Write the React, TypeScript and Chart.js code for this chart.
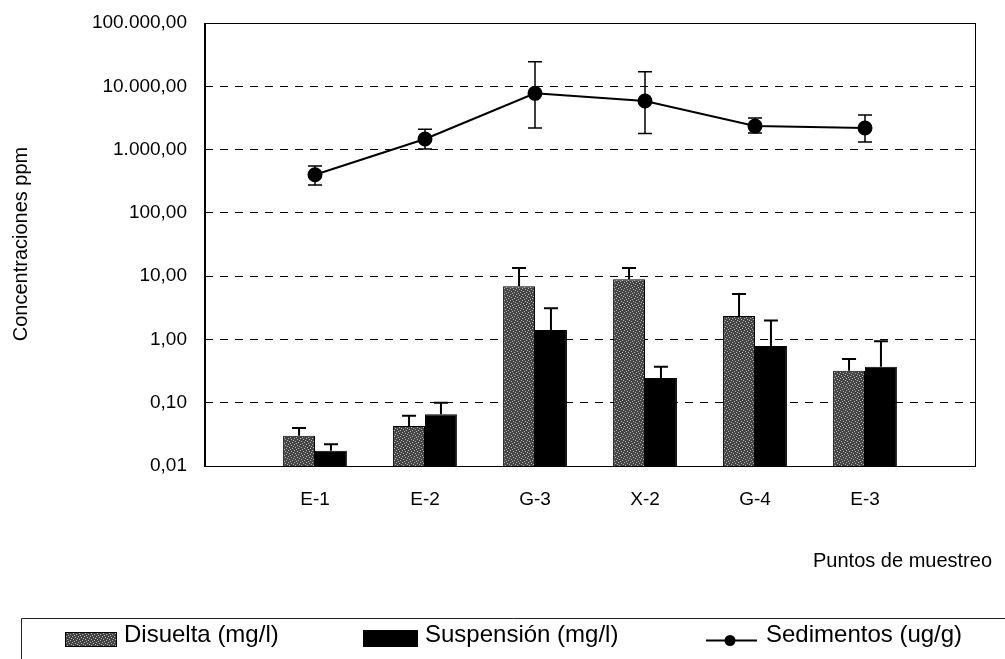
import React, { useEffect, useRef } from "react";
import { Chart, registerables } from "chart.js";

Chart.register(...registerables);

// ---- data ----
const categories = ["E-1", "E-2", "G-3", "X-2", "G-4", "E-3"];
const disuelta = [0.03, 0.043, 6.9, 8.9, 2.35, 0.32];
const disueltaHi = [0.04, 0.062, 13.4, 13.4, 5.2, 0.49];
const suspension = [0.0174, 0.066, 1.41, 0.245, 0.79, 0.37];
const suspensionHi = [0.022, 0.1, 3.1, 0.37, 2.0, 0.94];
const sedimentos = [400, 1470, 7740, 5860, 2350, 2190];
const sedimentosHi = [550, 2100, 24400, 17000, 3160, 3530];
const sedimentosLo = [275, 1020, 2200, 1790, 1820, 1320];
const yTicks = [0.01, 0.1, 1, 10, 100, 1000, 10000, 100000];

const seriesNames = ["Disuelta (mg/l)", "Suspensión (mg/l)", "Sedimentos (ug/g)"];
const xTitle = "Puntos de muestreo";
const yTitle = "Concentraciones ppm";

const FONT = "'Liberation Sans', Arial, sans-serif";

function fmt(v: number): string {
  const s = v.toFixed(2);
  const [i, d] = s.split(".");
  return i.replace(/\B(?=(\d{3})+(?!\d))/g, ".") + "," + d;
}

const pad = (arr: (number | null)[]) => [null, ...arr, null];

function makePattern(): CanvasPattern | string {
  const c = document.createElement("canvas");
  c.width = 6;
  c.height = 6;
  const g = c.getContext("2d");
  if (!g) return "#666";
  g.fillStyle = "#454545";
  g.fillRect(0, 0, 6, 6);
  g.fillStyle = "#b0b0b0";
  const pts = [
    [0, 0], [3, 1], [1, 3], [5, 2], [2, 5], [4, 4],
  ];
  pts.forEach(([x, y]) => g.fillRect(x, y, 1, 1));
  const p = g.createPattern(c, "repeat");
  return p || "#666";
}

export default function App() {
  const ref = useRef<HTMLCanvasElement | null>(null);

  useEffect(() => {
    if (!ref.current) return;
    const pattern = makePattern();

    const errorBars = {
      id: "errorBars",
      afterDatasetsDraw(chart: any) {
        const ctx = chart.ctx;
        const y = chart.scales.y;
        chart.data.datasets.forEach((ds: any, di: number) => {
          const meta = chart.getDatasetMeta(di);
          if (!ds.errHi) return;
          meta.data.forEach((el: any, i: number) => {
            const hi = ds.errHi[i];
            if (hi == null || ds.data[i] == null) return;
            const lo = ds.errLo ? ds.errLo[i] : ds.data[i];
            const x = el.x;
            const yHi = y.getPixelForValue(hi);
            const yLo = y.getPixelForValue(lo);
            const cap = 7;
            ctx.save();
            ctx.strokeStyle = "#000";
            ctx.lineWidth = ds.type === "line" ? 1.5 : 2;
            ctx.beginPath();
            ctx.moveTo(x, yLo);
            ctx.lineTo(x, yHi);
            ctx.moveTo(x - cap, yHi);
            ctx.lineTo(x + cap, yHi);
            if (ds.errLo) {
              ctx.moveTo(x - cap, yLo);
              ctx.lineTo(x + cap, yLo);
            }
            ctx.stroke();
            ctx.restore();
          });
        });
      },
    };

    const decorations = {
      id: "decorations",
      afterDraw(chart: any) {
        const ctx = chart.ctx;
        const a = chart.chartArea;
        ctx.save();
        // plot frame
        ctx.strokeStyle = "#000";
        ctx.lineWidth = 1;
        ctx.strokeRect(a.left + 0.5, a.top + 0.5, a.right - a.left, a.bottom - a.top);
        ctx.beginPath();
        ctx.moveTo(a.left - 0.5, a.top);
        ctx.lineTo(a.left - 0.5, a.bottom + 1);
        ctx.stroke();

        // axis titles
        ctx.fillStyle = "#000";
        ctx.font = `20px ${FONT}`;
        ctx.textAlign = "right";
        ctx.textBaseline = "alphabetic";
        ctx.fillText(xTitle, 992, 567);

        ctx.save();
        ctx.translate(27, 244);
        ctx.rotate(-Math.PI / 2);
        ctx.textAlign = "center";
        ctx.fillText(yTitle, 0, 0);
        ctx.restore();

        // legend box
        ctx.strokeStyle = "#222";
        ctx.lineWidth = 1;
        ctx.beginPath();
        ctx.moveTo(21.5, 659);
        ctx.lineTo(21.5, 618.5);
        ctx.lineTo(1005, 618.5);
        ctx.stroke();

        ctx.font = `24px ${FONT}`;
        ctx.textAlign = "left";
        // Disuelta
        ctx.fillStyle = pattern as any;
        ctx.fillRect(65, 632, 52, 15);
        ctx.strokeStyle = "#000";
        ctx.strokeRect(65.5, 632.5, 51, 14);
        ctx.fillStyle = "#000";
        ctx.fillText(seriesNames[0], 124, 642);
        // Suspensión
        ctx.fillRect(363, 630, 55, 17);
        ctx.fillText(seriesNames[1], 425, 642);
        // Sedimentos
        ctx.lineWidth = 2;
        ctx.beginPath();
        ctx.moveTo(706, 640.5);
        ctx.lineTo(757, 640.5);
        ctx.stroke();
        ctx.beginPath();
        ctx.arc(730, 640.5, 5.5, 0, Math.PI * 2);
        ctx.fill();
        ctx.fillText(seriesNames[2], 766, 642);
        ctx.restore();
      },
    };

    const chart = new Chart(ref.current, {
      type: "bar",
      data: {
        labels: ["", ...categories, ""],
        datasets: [
          {
            type: "line",
            label: seriesNames[2],
            data: pad(sedimentos),
            errHi: pad(sedimentosHi),
            errLo: pad(sedimentosLo),
            borderColor: "#000",
            borderWidth: 2,
            pointRadius: 6.5,
            pointBackgroundColor: "#000",
            pointBorderColor: "#000",
            tension: 0,
            order: 0,
          } as any,
          {
            type: "bar",
            label: seriesNames[0],
            data: pad(disuelta),
            errHi: pad(disueltaHi),
            backgroundColor: pattern as any,
            borderColor: "#000",
            borderWidth: 1,
            order: 1,
          } as any,
          {
            type: "bar",
            label: seriesNames[1],
            data: pad(suspension),
            errHi: pad(suspensionHi),
            backgroundColor: "#000",
            borderColor: "#000",
            borderWidth: 1,
            order: 2,
          } as any,
        ],
      },
      options: {
        animation: false,
        responsive: false,
        devicePixelRatio: 1,
        layout: { padding: { top: 23, right: 30, left: 0, bottom: 0 } },
        datasets: {
          bar: { barPercentage: 1, categoryPercentage: 0.58 },
        },
        plugins: {
          legend: { display: false },
          tooltip: { enabled: false },
          title: { display: false },
        },
        scales: {
          x: {
            type: "category",
            offset: false,
            grid: { display: false, drawTicks: false },
            border: { display: false },
            ticks: {
              autoSkip: false,
              maxRotation: 0,
              padding: 22,
              color: "#000",
              font: { family: FONT, size: 19 },
            },
            afterFit: (scale: any) => {
              scale.height = 193;
              scale.paddingLeft = 0;
              scale.paddingRight = 0;
            },
          },
          y: {
            type: "logarithmic",
            min: 0.01,
            max: 100000,
            afterBuildTicks: (scale: any) => {
              scale.ticks = yTicks.map((v) => ({ value: v }));
            },
            afterFit: (scale: any) => {
              scale.width = 205;
              scale.paddingTop = 0;
              scale.paddingBottom = 0;
            },
            grid: {
              drawTicks: false,
              lineWidth: 1,
              color: (c: any) =>
                c.tick && (c.tick.value === yTicks[0] || c.tick.value === yTicks[yTicks.length - 1])
                  ? "rgba(0,0,0,0)"
                  : "#000",
            },
            border: { display: false, dash: [8, 7] },
            ticks: {
              autoSkip: false,
              padding: 18,
              color: "#000",
              font: { family: FONT, size: 19 },
              callback: (v: any) => fmt(Number(v)),
            },
          },
        },
      } as any,
      plugins: [errorBars, decorations],
    });
    return () => chart.destroy();
  }, []);

  return (
    <div style={{ position: "fixed", left: 0, top: 0, width: 1005, height: 659, background: "#fff" }}>
      <canvas ref={ref} width={1005} height={659} style={{ display: "block" }} />
    </div>
  );
}
